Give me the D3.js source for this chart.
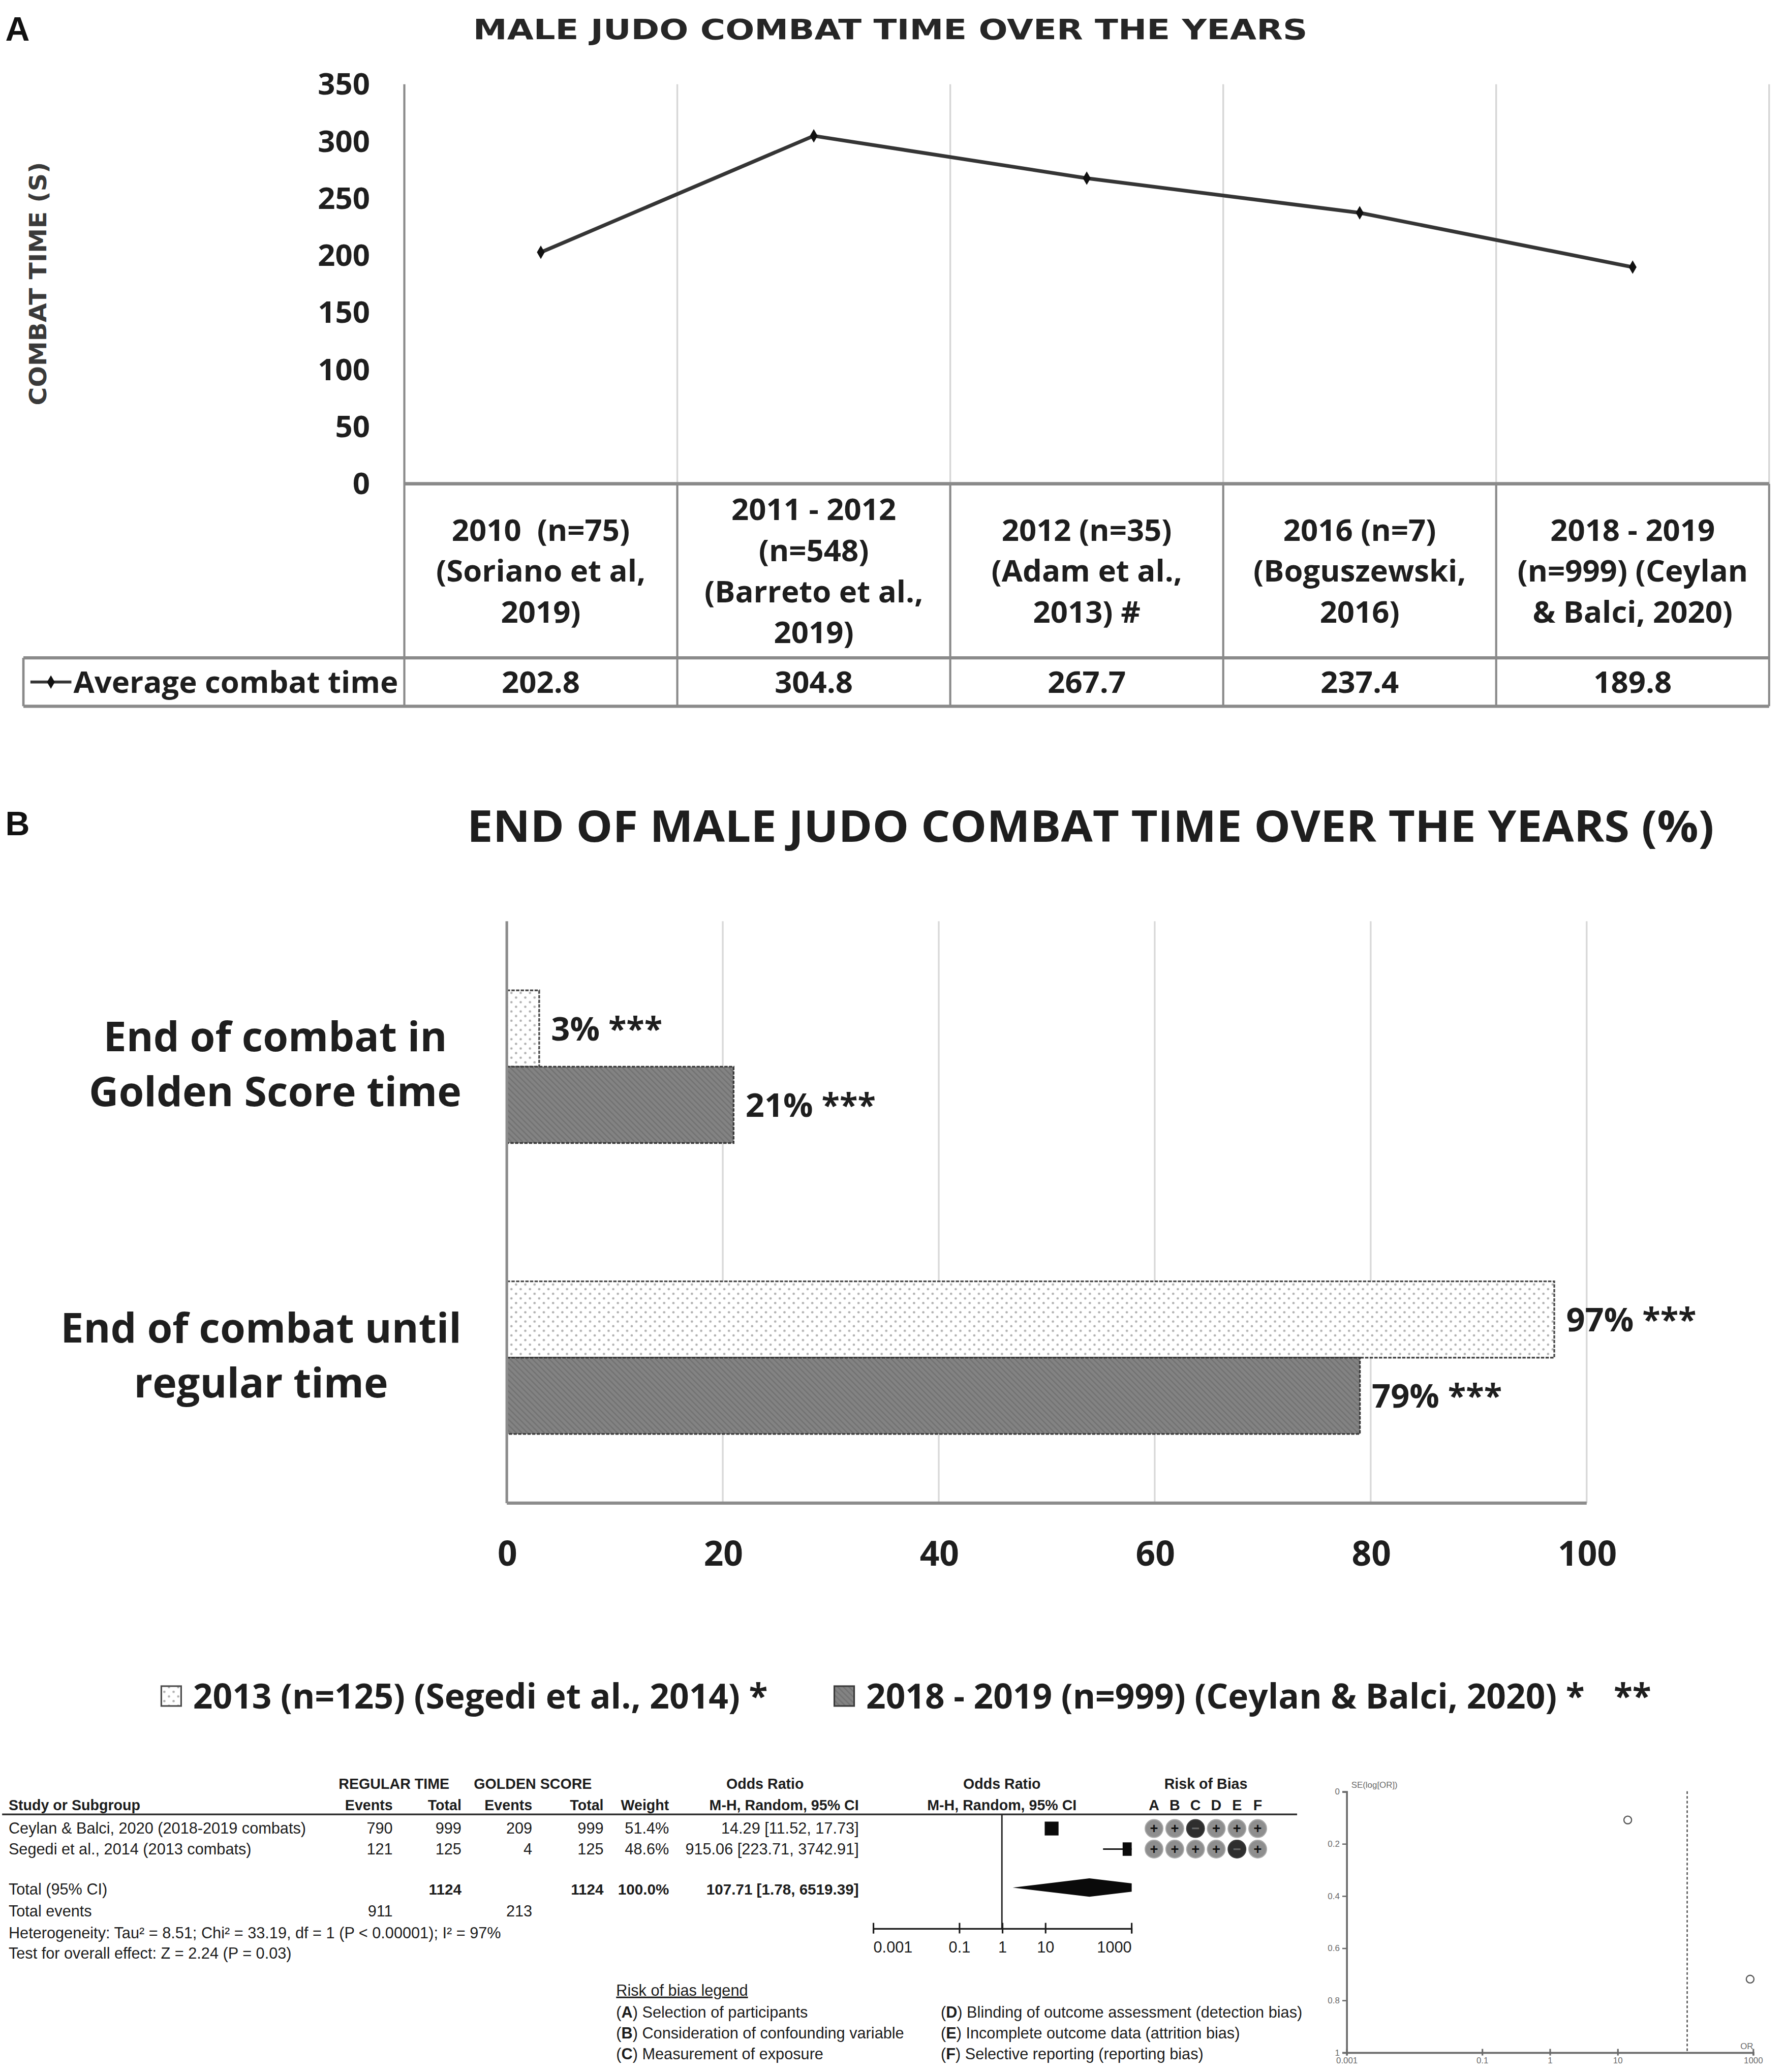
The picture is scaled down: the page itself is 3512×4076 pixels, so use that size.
<!DOCTYPE html>
<html>
<head>
<meta charset="utf-8">
<script src="https://cdn.jsdelivr.net/npm/d3@7"></script>
<style>
body { margin: 0; background: #fff; }
</style>
</head>
<body>
<svg id="fig"></svg>
<script>
// ---- panel A data
var periodLines = [
    ["2010  (n=75)", "(Soriano et al,", "2019)"],
    ["2011 - 2012", "(n=548)", "(Barreto et al.,", "2019)"],
    ["2012 (n=35)", "(Adam et al.,", "2013) #"],
    ["2016 (n=7)", "(Boguszewski,", "2016)"],
    ["2018 - 2019", "(n=999) (Ceylan", "& Balci, 2020)"]
];
var avgCombatTime = [202.8, 304.8, 267.7, 237.4, 189.8];
var combatTicks = [0, 50, 100, 150, 200, 250, 300, 350];
var seriesA = "Average combat time";

// ---- panel B data
var endCategories = [["End of combat in", "Golden Score time"], ["End of combat until", "regular time"]];
var endSeries = ["2013 (n=125) (Segedi et al., 2014) *", "2018 - 2019 (n=999) (Ceylan & Balci, 2020) *"];
var endSegedi = [3, 97];
var endCeylan = [21, 79];
var pctTicks = [0, 20, 40, 60, 80, 100];

// ---- forest plot data
var studies = ["Ceylan & Balci, 2020 (2018-2019 combats)", "Segedi et al., 2014 (2013 combats)"];
var regEvents = [790, 121];
var regTotal = [999, 125];
var gsEvents = [209, 4];
var gsTotal = [999, 125];
var weights = [51.4, 48.6];
var oddsRatio = [14.29, 915.06];
var ciLow = [11.52, 223.71];
var ciHigh = [17.73, 3742.91];
var pooled = {or: 107.71, lo: 1.78, hi: 6519.39};
var totalN = [1124, 1124];
var totalEvents = [911, 213];
var biasLetters = ["A", "B", "C", "D", "E", "F"];
var biasJudgement = [["+", "+", "-", "+", "+", "+"], ["+", "+", "+", "+", "-", "+"]];
var orTicks = [0.001, 0.1, 1, 10, 1000];
var funnelSE = [0.11, 0.72];
var seTicks = [0, 0.2, 0.4, 0.6, 0.8, 1];
var biasLegend = [
    ["A", "Selection of participants"],
    ["B", "Consideration of confounding variable"],
    ["C", "Measurement of exposure"],
    ["D", "Blinding of outcome assessment (detection bias)"],
    ["E", "Incomplete outcome data (attrition bias)"],
    ["F", "Selective reporting (reporting bias)"]
];

var W = 1350, H = 1566.75;
var OS = "'Open Sans', 'DejaVu Sans', sans-serif";
var AR = "'Liberation Sans', Arial, sans-serif";
let svg = d3.select("#fig")
    .attr("width", 3512)
    .attr("height", 4076)
    .attr("viewBox", `0 0 ${W} ${H}`);
svg.append("rect").attr("width", W).attr("height", H).attr("fill", "#fff");

let defs = svg.append("defs");
let dots = defs.append("pattern").attr("id", "dots")
    .attr("patternUnits", "userSpaceOnUse").attr("width", 7).attr("height", 7);
dots.append("rect").attr("width", 7).attr("height", 7).attr("fill", "#fff");
dots.append("circle").attr("cx", 1.8).attr("cy", 1.8).attr("r", 0.9).attr("fill", "#b0b0b0");
dots.append("circle").attr("cx", 5.3).attr("cy", 5.3).attr("r", 0.9).attr("fill", "#b0b0b0");
let hatch = defs.append("pattern").attr("id", "hatch")
    .attr("patternUnits", "userSpaceOnUse").attr("width", 3).attr("height", 3)
    .attr("patternTransform", "rotate(45)");
hatch.append("rect").attr("width", 3).attr("height", 3).attr("fill", "#838383");
hatch.append("line").attr("x1", 0).attr("x2", 3).attr("y1", 1).attr("y2", 1)
    .attr("stroke", "#727272").attr("stroke-width", 1);

// panel letters
svg.append("text").attr("x", 4).attr("y", 30.6).text("A")
    .attr("font-family", AR).attr("font-weight", "bold").attr("font-size", 25.5).attr("fill", "#111");
svg.append("text").attr("x", 4).attr("y", 631.6).text("B")
    .attr("font-family", AR).attr("font-weight", "bold").attr("font-size", 25.5).attr("fill", "#111");

//================ panel A : line chart with data table
function panelA() {
    let g = svg.append("g");
    let xA = d3.scaleBand().domain(d3.range(avgCombatTime.length)).range([305.8, 1338]);
    let yA = d3.scaleLinear().domain([0, 350]).range([365.8, 63.7]);
    let tabTop = yA(0), rowTop = 497.4, tabBot = 534;
    let edges = xA.domain().map(i => xA(i)).concat([xA.range()[1]]);

    g.append("text")
        .attr("x", 673.3).attr("y", 29.6)
        .attr("text-anchor", "middle")
        .attr("font-family", "'DejaVu Sans', sans-serif").attr("font-weight", "bold")
        .attr("font-size", 21.5).attr("fill", "#262626")
        .attr("textLength", 631).attr("lengthAdjust", "spacingAndGlyphs")
        .text("MALE JUDO COMBAT TIME OVER THE YEARS");

    g.append("text")
        .attr("transform", `translate(35, 214.5) rotate(-90)`)
        .attr("text-anchor", "middle")
        .attr("font-family", "'DejaVu Sans', sans-serif").attr("font-weight", "bold")
        .attr("font-size", 18).attr("fill", "#3a3a3a")
        .attr("textLength", 184).attr("lengthAdjust", "spacingAndGlyphs")
        .text("COMBAT TIME (S)");

    // light vertical gridlines in plot area
    g.selectAll("line.grid").data(edges.slice(1)).join("line")
        .attr("x1", d => d).attr("x2", d => d)
        .attr("y1", yA(350)).attr("y2", tabTop)
        .attr("stroke", "#d6d6d6").attr("stroke-width", 1.3);
    // table lines
    g.append("line").attr("x1", edges[0]).attr("x2", edges[0])
        .attr("y1", yA(350)).attr("y2", tabBot)
        .attr("stroke", "#8a8a8a").attr("stroke-width", 1.6);
    g.selectAll("line.tab").data(edges.slice(1)).join("line")
        .attr("x1", d => d).attr("x2", d => d)
        .attr("y1", tabTop).attr("y2", tabBot)
        .attr("stroke", "#8a8a8a").attr("stroke-width", 1.6);
    g.append("line").attr("x1", edges[0]).attr("x2", edges[5])
        .attr("y1", tabTop).attr("y2", tabTop)
        .attr("stroke", "#8a8a8a").attr("stroke-width", 2.6);
    [rowTop, tabBot].forEach(y => {
        g.append("line").attr("x1", 17.7).attr("x2", edges[5])
            .attr("y1", y).attr("y2", y)
            .attr("stroke", "#8a8a8a").attr("stroke-width", 2.4);
    });
    g.append("line").attr("x1", 17.7).attr("x2", 17.7)
        .attr("y1", rowTop).attr("y2", tabBot)
        .attr("stroke", "#8a8a8a").attr("stroke-width", 1.8);

    // y axis
    g.append("g")
        .attr("transform", `translate(${edges[0]}, 0)`)
        .call(d3.axisLeft(yA).tickValues(combatTicks).tickSize(0).tickPadding(26))
        .call(a => a.select(".domain").remove())
        .attr("font-family", OS).attr("font-size", 23).attr("font-weight", "bold")
        .attr("color", "#1e1e1e");

    // line + markers
    let line = d3.line()
        .x((d, i) => xA(i) + xA.bandwidth() / 2)
        .y(d => yA(d));
    g.append("path").datum(avgCombatTime)
        .attr("d", line).attr("fill", "none")
        .attr("stroke", "#353535").attr("stroke-width", 2.8).attr("stroke-linejoin", "round");
    g.selectAll("path.mk").data(avgCombatTime).join("path")
        .attr("transform", (d, i) => `translate(${xA(i) + xA.bandwidth() / 2}, ${yA(d)})`)
        .attr("d", d3.symbol(d3.symbolDiamond, 30))
        .attr("fill", "#111");

    // category header cells
    let hdrMid = (tabTop + rowTop) / 2;
    periodLines.forEach((lines, i) => {
        let t = g.append("text")
            .attr("text-anchor", "middle")
            .attr("font-family", OS).attr("font-size", 23).attr("font-weight", "bold")
            .attr("fill", "#1e1e1e");
        lines.forEach((s, j) => {
            t.append("tspan")
                .attr("x", xA(i) + xA.bandwidth() / 2)
                .attr("y", hdrMid + (j - (lines.length - 1) / 2) * 31 + 8.3)
                .attr("xml:space", "preserve")
                .text(s);
        });
    });
    // values row
    let rowMid = (rowTop + tabBot) / 2;
    g.selectAll("text.val").data(avgCombatTime).join("text")
        .attr("x", (d, i) => xA(i) + xA.bandwidth() / 2)
        .attr("y", rowMid + 8.3)
        .attr("text-anchor", "middle")
        .attr("font-family", OS).attr("font-size", 23).attr("font-weight", "bold")
        .attr("fill", "#1e1e1e")
        .text(d => d3.format(".1f")(d));
    // legend key in table
    g.append("line").attr("x1", 23).attr("x2", 54).attr("y1", rowMid).attr("y2", rowMid)
        .attr("stroke", "#353535").attr("stroke-width", 2.2);
    g.append("path").attr("transform", `translate(38.5, ${rowMid})`)
        .attr("d", d3.symbol(d3.symbolDiamond, 30)).attr("fill", "#111");
    g.append("text").attr("x", 55.5).attr("y", rowMid + 8.3)
        .attr("font-family", OS).attr("font-size", 23).attr("font-weight", "bold")
        .attr("fill", "#1e1e1e").text(seriesA);
}

//================ panel B : horizontal grouped bars
function panelB() {
    let g = svg.append("g");
    let xB = d3.scaleLinear().domain([0, 100]).range([383.3, 1200]);
    let yB = d3.scaleBand().domain(d3.range(endCategories.length)).range([696.6, 1136.6]);
    let yS = d3.scaleBand().domain([0, 1]).range([0, yB.bandwidth()]).paddingOuter(0.906);
    let series = [
        {name: endSeries[0], vals: endSegedi, fill: "url(#dots)", stroke: "#4a4a4a"},
        {name: endSeries[1], vals: endCeylan, fill: "url(#hatch)", stroke: "#3a3a3a"}
    ];

    g.append("text")
        .attr("x", 824.8).attr("y", 636.5)
        .attr("text-anchor", "middle")
        .attr("font-family", OS).attr("font-weight", "bold")
        .attr("font-size", 33).attr("fill", "#1e1e1e")
        .attr("textLength", 943).attr("lengthAdjust", "spacingAndGlyphs")
        .text("END OF MALE JUDO COMBAT TIME OVER THE YEARS (%)");

    g.selectAll("line.grid").data(pctTicks.slice(1)).join("line")
        .attr("x1", d => xB(d)).attr("x2", d => xB(d))
        .attr("y1", yB.range()[0]).attr("y2", yB.range()[1])
        .attr("stroke", "#d9d9d9").attr("stroke-width", 1.3);

    series.forEach((s, si) => {
        g.selectAll(null).data(s.vals).join("rect")
            .attr("x", xB(0))
            .attr("y", (d, ci) => yB(ci) + yS(si))
            .attr("width", d => xB(d) - xB(0))
            .attr("height", yS.bandwidth())
            .attr("fill", s.fill)
            .attr("stroke", s.stroke).attr("stroke-width", 1.3)
            .attr("stroke-dasharray", "2.5,1");
        g.selectAll(null).data(s.vals).join("text")
            .attr("x", d => xB(d) + 9)
            .attr("y", (d, ci) => yB(ci) + yS(si) + yS.bandwidth() / 2 + 9)
            .attr("font-family", OS).attr("font-size", 25).attr("font-weight", "bold")
            .attr("fill", "#1e1e1e")
            .text(d => d + "% ***");
    });

    g.append("line").attr("x1", xB(0)).attr("x2", xB(0))
        .attr("y1", yB.range()[0]).attr("y2", yB.range()[1])
        .attr("stroke", "#8c8c8c").attr("stroke-width", 2);
    g.append("line").attr("x1", xB(0)).attr("x2", xB(100))
        .attr("y1", yB.range()[1]).attr("y2", yB.range()[1])
        .attr("stroke", "#8c8c8c").attr("stroke-width", 2.4);

    g.append("g")
        .attr("transform", `translate(0, ${yB.range()[1]})`)
        .call(d3.axisBottom(xB).tickValues(pctTicks).tickSize(0).tickPadding(29))
        .call(a => a.select(".domain").remove())
        .attr("font-family", OS).attr("font-size", 26).attr("font-weight", "bold")
        .attr("color", "#1e1e1e");

    // category labels, each block right-aligned, lines centred
    endCategories.forEach((lines, ci) => {
        let t = g.append("text")
            .attr("text-anchor", "middle")
            .attr("font-family", OS).attr("font-size", 31).attr("font-weight", "bold")
            .attr("fill", "#1e1e1e");
        let spans = lines.map((s, j) => t.append("tspan")
            .attr("y", yB(ci) + yB.bandwidth() / 2 + 9.2 + (j - (lines.length - 1) / 2) * 41.6)
            .text(s));
        let maxW = d3.max(spans, sp => sp.node().getComputedTextLength());
        spans.forEach(sp => sp.attr("x", 349 - maxW / 2));
    });

    // legend
    let lx = [122, 631];
    series.forEach((s, si) => {
        g.append("rect").attr("x", lx[si]).attr("y", 1275)
            .attr("width", 15).attr("height", 15)
            .attr("fill", s.fill).attr("stroke", s.stroke).attr("stroke-width", 1.2);
        let t = g.append("text").attr("x", lx[si] + 24).attr("y", 1292)
            .attr("font-family", OS).attr("font-size", 26).attr("font-weight", "bold")
            .attr("fill", "#1e1e1e").text(s.name);
        if (si == 1) t.append("tspan").attr("dx", 22).text("**");
    });
}

//================ panel C : forest plot
function panelC() {
    let g = svg.append("g").attr("font-family", AR).attr("fill", "#1c1c1c");
    let rowY = d3.scaleBand().domain(d3.range(studies.length)).range([1374.9, 1406]);
    let xF = d3.scaleLog().domain([0.001, 1000]).range([660.1, 855.4]);
    let sq = d3.scaleSqrt().domain([0, 100]).range([0, 14.6]);
    let fs = 11, fr = 11.8;
    let colX = {re: 297, rt: 349, ge: 402.5, gt: 456.5, w: 506, ci: 649.5};
    let base = y => y + 4;

    // header
    let h1 = 1348.7, h2 = 1364.7;
    let hdr = (x, y, s, anchor) => g.append("text").attr("x", x).attr("y", base(y))
        .attr("text-anchor", anchor).attr("font-size", fs).attr("font-weight", "bold").text(s);
    hdr(298, h1, "REGULAR TIME", "middle");
    hdr(403, h1, "GOLDEN SCORE", "middle");
    hdr(578.6, h1, "Odds Ratio", "middle");
    hdr(xF(1), h1, "Odds Ratio", "middle");
    hdr(912, h1, "Risk of Bias", "middle");
    hdr(6.5, h2, "Study or Subgroup", "start");
    hdr(colX.re, h2, "Events", "end");
    hdr(colX.rt, h2, "Total", "end");
    hdr(colX.ge, h2, "Events", "end");
    hdr(colX.gt, h2, "Total", "end");
    hdr(colX.w, h2, "Weight", "end");
    hdr(colX.ci, h2, "M-H, Random, 95% CI", "end");
    hdr(xF(1), h2, "M-H, Random, 95% CI", "middle");
    let xRob = d3.scalePoint().domain(biasLetters).range([872.8, 951.2]);
    biasLetters.forEach(l => hdr(xRob(l), h2, l, "middle"));
    g.append("line").attr("x1", 1.6).attr("x2", 981).attr("y1", 1372).attr("y2", 1372)
        .attr("stroke", "#333").attr("stroke-width", 1.3);

    // study rows
    let fmt2 = d3.format(".2f");
    studies.forEach((s, i) => {
        let y = base(rowY(i) + rowY.bandwidth() / 2);
        let cell = (x, txt, anchor) => g.append("text").attr("x", x).attr("y", y)
            .attr("text-anchor", anchor).attr("font-size", fr).text(txt);
        cell(6.5, s, "start");
        cell(colX.re, regEvents[i], "end");
        cell(colX.rt, regTotal[i], "end");
        cell(colX.ge, gsEvents[i], "end");
        cell(colX.gt, gsTotal[i], "end");
        cell(colX.w, weights[i].toFixed(1) + "%", "end");
        cell(colX.ci, `${fmt2(oddsRatio[i])} [${fmt2(ciLow[i])}, ${fmt2(ciHigh[i])}]`, "end");
    });
    let yTot = 1428.8, yEv = 1445, yHet = 1461.6, yTest = 1477;
    let tot = (x, y, txt, anchor, bold) => g.append("text").attr("x", x).attr("y", base(y))
        .attr("text-anchor", anchor).attr("font-size", bold ? fs + 0.4 : fr)
        .attr("font-weight", bold ? "bold" : "normal").text(txt);
    tot(6.5, yTot, "Total (95% CI)", "start", false);
    tot(colX.rt, yTot, totalN[0], "end", true);
    tot(colX.gt, yTot, totalN[1], "end", true);
    tot(colX.w, yTot, d3.sum(weights).toFixed(1) + "%", "end", true);
    tot(colX.ci, yTot, `${fmt2(pooled.or)} [${fmt2(pooled.lo)}, ${fmt2(pooled.hi)}]`, "end", true);
    tot(6.5, yEv, "Total events", "start", false);
    tot(colX.re, yEv, totalEvents[0], "end", false);
    tot(colX.ge, yEv, totalEvents[1], "end", false);
    tot(6.5, yHet, "Heterogeneity: Tau\u00b2 = 8.51; Chi\u00b2 = 33.19, df = 1 (P < 0.00001); I\u00b2 = 97%", "start", false);
    tot(6.5, yTest, "Test for overall effect: Z = 2.24 (P = 0.03)", "start", false);

    // forest graphic
    let axisY = 1458;
    defs.append("clipPath").attr("id", "fclip").append("rect")
        .attr("x", xF.range()[0] - 1).attr("y", 1370)
        .attr("width", xF.range()[1] - xF.range()[0] + 1.5).attr("height", 95);
    g.append("line").attr("x1", xF(1)).attr("x2", xF(1)).attr("y1", 1372).attr("y2", axisY)
        .attr("stroke", "#222").attr("stroke-width", 1.1);
    let fg = g.append("g").attr("clip-path", "url(#fclip)");
    studies.forEach((s, i) => {
        let cy = rowY(i) + rowY.bandwidth() / 2;
        fg.append("line").attr("x1", xF(ciLow[i])).attr("x2", xF(ciHigh[i]))
            .attr("y1", cy).attr("y2", cy).attr("stroke", "#111").attr("stroke-width", 1.2);
        let side = sq(weights[i]);
        fg.append("rect").attr("x", xF(oddsRatio[i]) - side / 2).attr("y", cy - side / 2)
            .attr("width", side).attr("height", side).attr("fill", "#0a0a0a");
    });
    let dy = yTot - 1.5;
    fg.append("path")
        .attr("d", `M${xF(pooled.lo)},${dy}L${xF(pooled.or)},${dy - 7}L${xF(pooled.hi)},${dy}L${xF(pooled.or)},${dy + 7}Z`)
        .attr("fill", "#0a0a0a");
    let ax = g.append("g").attr("transform", `translate(0, ${axisY})`)
        .call(d3.axisBottom(xF).tickValues(orTicks).tickSize(4).tickPadding(6)
            .tickFormat(d => d3.format("~g")(d)));
    ax.attr("font-family", AR).attr("font-size", fr).attr("color", "#1c1c1c");
    ax.select(".domain").attr("stroke-width", 1.2);
    ax.selectAll(".tick line").attr("y1", -4).attr("stroke-width", 1.2);
    ax.selectAll(".tick text")
        .attr("text-anchor", (d, i) => i == 0 ? "start" : (i == orTicks.length - 1 ? "end" : "middle"));

    // risk of bias dots
    biasJudgement.forEach((row, i) => {
        let cy = rowY(i) + rowY.bandwidth() / 2;
        row.forEach((j, k) => {
            let cx = xRob(biasLetters[k]);
            g.append("circle").attr("cx", cx).attr("cy", cy).attr("r", 6.7)
                .attr("fill", j == "+" ? "#8e8e8e" : "#2e2e2e")
                .attr("stroke", j == "+" ? "#a8a8a8" : "#3c3c3c").attr("stroke-width", 0.8);
            g.append("text").attr("x", cx).attr("y", cy + 3.6)
                .attr("text-anchor", "middle").attr("font-size", 10.5).attr("font-weight", "bold")
                .attr("fill", j == "+" ? "#111" : "#6a6a6a")
                .text(j == "+" ? "+" : "\u2212");
        });
    });

    // risk of bias legend
    g.append("text").attr("x", 466).attr("y", base(1505)).attr("font-size", fr)
        .attr("text-decoration", "underline").text("Risk of bias legend");
    let legCol = d3.scaleOrdinal().domain([0, 1]).range([466, 711.5]);
    let legRow = d3.scalePoint().domain([0, 1, 2]).range([1521.5, 1553]);
    biasLegend.forEach((d, i) => {
        let t = g.append("text").attr("x", legCol(Math.floor(i / 3)))
            .attr("y", base(legRow(i % 3))).attr("font-size", fr);
        t.append("tspan").text("(");
        t.append("tspan").attr("font-weight", "bold").text(d[0]);
        t.append("tspan").text(") " + d[1]);
    });
}

//================ panel C right : funnel plot
function funnel() {
    let g = svg.append("g").attr("font-family", AR);
    let fx = d3.scaleLog().domain([0.001, 1000]).range([1018.2, 1325.6]);
    let fy = d3.scaleLinear().domain([0, 1]).range([1354.5, 1551.8]);
    let col = "#6a6a6a";
    g.append("line").attr("x1", fx(pooled.or)).attr("x2", fx(pooled.or))
        .attr("y1", fy(0)).attr("y2", fy(1))
        .attr("stroke", "#555").attr("stroke-width", 1).attr("stroke-dasharray", "2,1.6");
    let ya = g.append("g").attr("transform", `translate(${fx.range()[0]}, 0)`)
        .call(d3.axisLeft(fy).tickValues(seTicks).tickSize(3).tickPadding(2).tickFormat(d3.format("~g")));
    ya.attr("font-size", 6.5).attr("font-family", AR).attr("color", col);
    ya.select(".domain").attr("stroke-width", 1.4);
    let xa = g.append("g").attr("transform", `translate(0, ${fy(1)})`)
        .call(d3.axisBottom(fx).tickValues(orTicks).tickSize(2.5).tickPadding(1.5).tickFormat(d3.format("~g")));
    xa.attr("font-size", 6.5).attr("font-family", AR).attr("color", col);
    xa.select(".domain").attr("stroke-width", 1.4);
    xa.selectAll(".tick line").attr("y1", -2.5).attr("stroke-width", 1.2);
    g.append("text").attr("x", 1022).attr("y", 1352).attr("font-size", 6.5).attr("fill", col)
        .text("SE(log[OR])");
    g.append("text").attr("x", 1326).attr("y", 1549.5).attr("text-anchor", "end")
        .attr("font-size", 6.5).attr("fill", col).text("OR");
    g.selectAll("circle").data(oddsRatio).join("circle")
        .attr("cx", d => fx(d)).attr("cy", (d, i) => fy(funnelSE[i]))
        .attr("r", 2.9).attr("fill", "none").attr("stroke", "#555").attr("stroke-width", 0.9);
}

panelA();
panelB();
panelC();
funnel();
</script>
</body>
</html>
